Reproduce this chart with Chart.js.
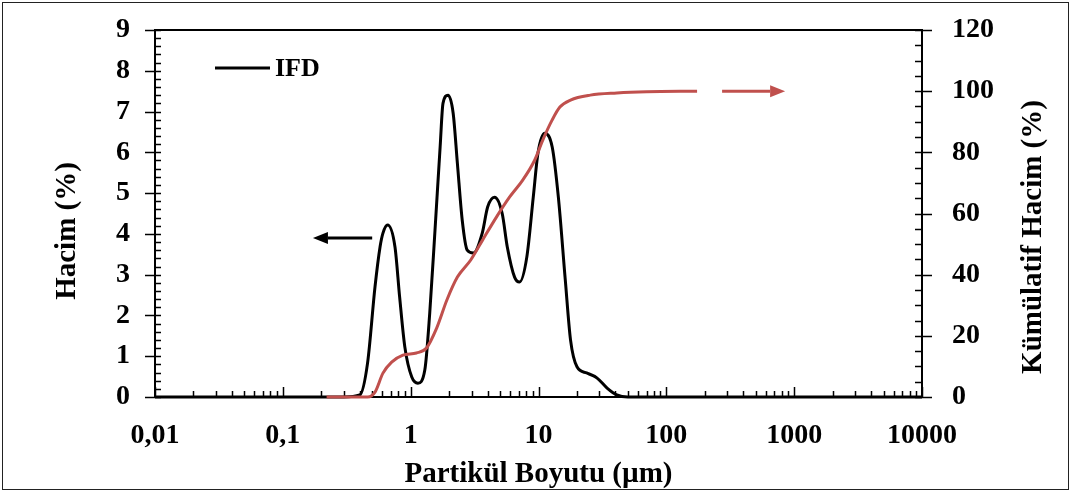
<!DOCTYPE html>
<html>
<head>
<meta charset="utf-8">
<script src="https://cdn.jsdelivr.net/npm/chart.js@4.4.0/dist/chart.umd.min.js"></script>
<style>
  html, body { margin: 0; padding: 0; background: #fff; }
  #wrap { width: 1073px; height: 493px; }
</style>
</head>
<body>
<div id="wrap"><canvas id="psdChart" width="1073" height="493"></canvas></div>
<script>
// frequency curve (IFD), particle size in µm vs volume %
const ifdSize = [0.01, 0.1, 0.3, 0.40, 0.46, 0.526, 0.576, 0.607, 0.66, 0.754, 0.82, 0.90, 1.02, 1.14, 1.29, 1.41, 1.55, 1.70, 1.79, 1.96, 2.15, 2.32, 2.53, 2.77, 3.09, 3.63, 4.0, 4.53, 5.2, 5.7, 6.5, 7.1, 8.1, 9.1, 9.9, 11.2, 12.8, 14.3, 16.2, 17.8, 20.0, 23.8, 28.6, 34.4, 41, 50, 100, 1000, 10000];
const ifdVolume = [0, 0, 0, 0.05, 0.83, 2.7, 3.68, 4.02, 4.22, 3.68, 2.45, 1.23, 0.49, 0.34, 0.66, 2.06, 4.09, 6.13, 7.2, 7.4, 6.96, 5.73, 4.34, 3.6, 3.53, 4.02, 4.66, 4.9, 4.5, 3.68, 2.94, 2.82, 3.43, 4.9, 5.98, 6.47, 6.13, 4.9, 2.87, 1.4, 0.74, 0.59, 0.47, 0.22, 0.05, 0, 0, 0, 0];

// cumulative volume %
const cumSize = [0.22, 0.46, 0.526, 0.607, 0.71, 0.87, 1.11, 1.33, 1.60, 1.92, 2.32, 2.95, 3.65, 4.7, 5.95, 7.55, 9.35, 10.8, 12.8, 14.7, 17.8, 25.4, 41, 70, 174];
const cumVolume = [0, 0, 1.6, 7.8, 11.4, 13.7, 14.4, 16, 22.6, 31.7, 39.2, 44.8, 51.3, 58.9, 65.4, 71, 77.5, 84, 90.6, 94.8, 97.1, 98.7, 99.4, 99.8, 100];

const xTicks = [0.01, 0.1, 1, 10, 100, 1000, 10000];
const xTickLabels = ['0,01', '0,1', '1', '10', '100', '1000', '10000'];

const RED = '#C0504D';
const FONT = "'Liberation Serif', 'Times New Roman', serif";
const tickFont = { family: FONT, size: 28, weight: 'bold' };
const titleFont = { family: FONT, size: 29, weight: 'bold' };

function arrow(ctx, x1, y1, x2, y2, color) {
    const dir = Math.sign(x2 - x1);
    const head = 15;
    ctx.save();
    ctx.strokeStyle = color;
    ctx.fillStyle = color;
    ctx.lineWidth = 3;
    ctx.beginPath();
    ctx.moveTo(x1, y1);
    ctx.lineTo(x2 - dir * head, y2);
    ctx.stroke();
    ctx.beginPath();
    ctx.moveTo(x2, y2);
    ctx.lineTo(x2 - dir * head, y2 - 6);
    ctx.lineTo(x2 - dir * head, y2 + 6);
    ctx.closePath();
    ctx.fill();
    ctx.restore();
}

function verticalText(ctx, text, x, y) {
    ctx.save();
    ctx.translate(x, y);
    ctx.rotate(-Math.PI / 2);
    ctx.fillStyle = '#000';
    ctx.font = "bold 29px " + FONT;
    ctx.textAlign = 'center';
    ctx.textBaseline = 'middle';
    ctx.fillText(text, 0, 0);
    ctx.restore();
}

// keep the plot box where the picture has it
function fitY(width) {
    return s => {
        s.width = width;
        s.paddingTop = 0;
        s.paddingBottom = 0;
    };
}

const framePlugin = {
    id: 'frame',
    beforeDraw(chart) {
        const ctx = chart.ctx;
        ctx.save();
        ctx.strokeStyle = '#222';
        ctx.lineWidth = 1;
        ctx.strokeRect(2.5, 2.5, 1066, 487);
        ctx.restore();
    },
    beforeDatasetsDraw(chart) {
        const { ctx, chartArea: a, scales } = chart;
        ctx.save();
        ctx.strokeStyle = '#000';
        ctx.lineWidth = 2;
        ctx.strokeRect(a.left, a.top, a.right - a.left, a.bottom - a.top);
        ctx.lineWidth = 1.5;
        ctx.beginPath();
        // left axis ticks
        for (let v = 0; v <= 9.001; v += 0.2) {
            const y = Math.round(scales.y.getPixelForValue(v)) + 0.5;
            const major = Math.abs(v - Math.round(v)) < 0.01;
            ctx.moveTo(major ? a.left - 10 : a.left, y);
            ctx.lineTo(a.left + 6, y);
        }
        // right axis ticks
        for (let v = 0; v <= 120.01; v += 5) {
            const y = Math.round(scales.y2.getPixelForValue(v)) + 0.5;
            const major = v % 20 === 0;
            ctx.moveTo(a.right - 7, y);
            ctx.lineTo(major ? a.right + 10 : a.right, y);
        }
        // x axis log ticks
        for (let k = -2; k <= 4; k++) {
            for (let d = 1; d <= 9; d++) {
                const v = d * Math.pow(10, k);
                if (v > 10000) break;
                const x = Math.round(scales.x.getPixelForValue(v)) + 0.5;
                ctx.moveTo(x, a.bottom);
                ctx.lineTo(x, a.bottom - (d === 1 ? 10 : 6));
            }
        }
        ctx.stroke();
        ctx.restore();

        // axis titles (both read bottom-to-top)
        verticalText(ctx, 'Hacim (%)', 68, 231);
        verticalText(ctx, 'Kümülatif Hacim (%)', 1034, 237);
    },
    afterDatasetsDraw(chart) {
        const { ctx, chartArea: a, scales } = chart;
        // arrows telling which axis each curve belongs to
        const yb = scales.y.getPixelForValue(3.9);
        arrow(ctx, scales.x.getPixelForValue(0.50), yb, scales.x.getPixelForValue(0.172), yb, '#000');
        const yr = scales.y2.getPixelForValue(100);
        arrow(ctx, scales.x.getPixelForValue(273), yr, scales.x.getPixelForValue(850), yr, RED);
        // legend
        const ly = a.top + 38;
        ctx.save();
        ctx.strokeStyle = '#000';
        ctx.lineWidth = 3;
        ctx.beginPath();
        ctx.moveTo(a.left + 60, ly);
        ctx.lineTo(a.left + 115, ly);
        ctx.stroke();
        ctx.fillStyle = '#000';
        ctx.font = "bold 26px " + FONT;
        ctx.textBaseline = 'middle';
        ctx.fillText('IFD', a.left + 120, ly + 1);
        ctx.restore();
    }
};

new Chart(document.getElementById('psdChart'), {
    type: 'line',
    data: {
        datasets: [{
            label: 'IFD',
            data: ifdSize.map((s, i) => ({ x: s, y: ifdVolume[i] })),
            borderColor: '#000',
            borderWidth: 3,
            pointRadius: 0,
            cubicInterpolationMode: 'monotone',
            clip: false,
            order: 1,
            yAxisID: 'y'
        }, {
            label: 'Kümülatif',
            data: cumSize.map((s, i) => ({ x: s, y: cumVolume[i] })),
            borderColor: RED,
            borderWidth: 3,
            pointRadius: 0,
            cubicInterpolationMode: 'monotone',
            clip: false,
            order: 0,
            yAxisID: 'y2'
        }]
    },
    options: {
        responsive: false,
        animation: false,
        layout: { padding: { top: 30, left: 0, right: 0, bottom: 0 } },
        plugins: { legend: { display: false }, tooltip: { enabled: false } },
        scales: {
            x: {
                type: 'logarithmic',
                position: 'bottom',
                min: 0.01,
                max: 10000,
                afterBuildTicks: s => { s.ticks = xTicks.map(v => ({ value: v })); },
                afterFit: s => { s.height = 96; },
                ticks: {
                    autoSkip: false,
                    maxRotation: 0,
                    padding: 22,
                    color: '#000',
                    font: tickFont,
                    callback: v => xTickLabels[xTicks.indexOf(v)]
                },
                grid: { display: false, drawTicks: false },
                border: { display: false },
                title: { display: true, text: 'Partikül Boyutu (µm)', color: '#000', font: titleFont, padding: { top: 0, bottom: 1 } }
            },
            y: {
                position: 'left',
                min: 0,
                max: 9,
                afterFit: fitY(155),
                ticks: { stepSize: 1, padding: 25, color: '#000', font: tickFont },
                grid: { display: false, drawTicks: false },
                border: { display: false }
            },
            y2: {
                position: 'right',
                min: 0,
                max: 120,
                afterFit: fitY(151),
                ticks: { stepSize: 20, padding: 30, color: '#000', font: tickFont },
                grid: { display: false, drawTicks: false },
                border: { display: false }
            }
        }
    },
    plugins: [framePlugin]
});
</script>
</body>
</html>
